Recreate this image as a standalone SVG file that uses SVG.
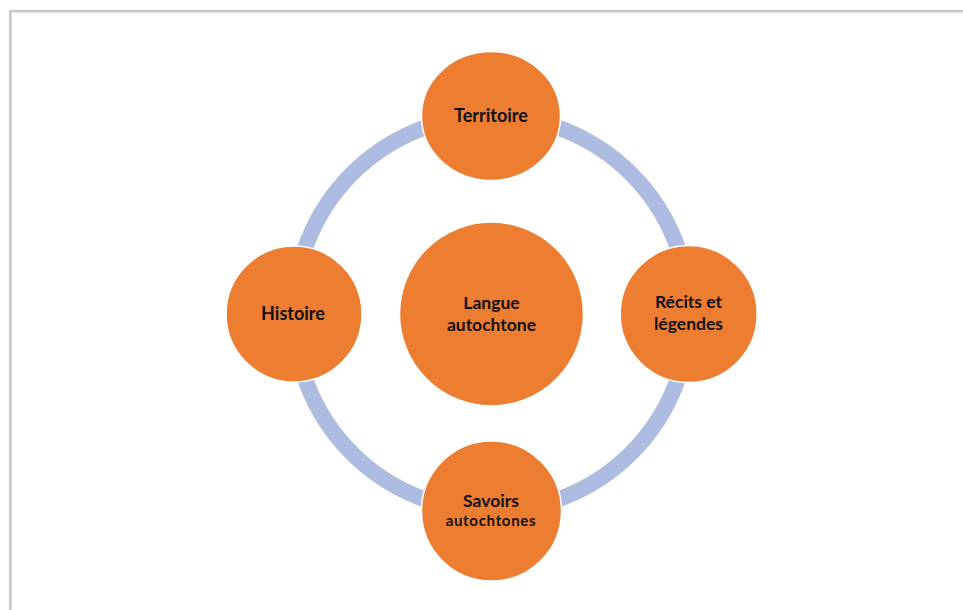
<svg xmlns="http://www.w3.org/2000/svg" width="963" height="610" viewBox="0 0 963 610">
<style>
.node{fill:#ed7d31;stroke:#ffffff;stroke-width:1.5}
.lbl{font-family:Lato,"Liberation Sans",sans-serif;font-weight:bold;fill:#111111;text-anchor:middle}
.ring{fill:none;stroke:#adbce0;stroke-width:16}
.frame{stroke:#c9c9c9;stroke-width:2.6;fill:none}
</style>
<rect width="963" height="610" fill="#ffffff"/>
<path class="frame" d="M10.3 610 V11.3 H963"/>
<g id="connectors">
<circle class="ring" cx="491.5" cy="313.5" r="197.5"/>
</g>
<g id="center">
<circle class="node" cx="491.5" cy="314" r="92"/>
<text class="lbl" x="491.5" y="308.7" font-size="17.5">Langue</text>
<text class="lbl" x="491.5" y="330.7" font-size="17.5">autochtone</text>
</g>
<g id="territoire">
<ellipse class="node" cx="491" cy="116" rx="69.5" ry="64.5"/>
<text class="lbl" x="491" y="121.7" font-size="18">Territoire</text>
</g>
<g id="histoire">
<circle class="node" cx="294" cy="314" r="68"/>
<text class="lbl" x="293" y="320" font-size="18">Histoire</text>
</g>
<g id="recits">
<circle class="node" cx="688.7" cy="314" r="68.5"/>
<text class="lbl" x="688.5" y="308.3" font-size="17.5">Récits et</text>
<text class="lbl" x="688.5" y="330" font-size="17.5">légendes</text>
</g>
<g id="savoirs">
<circle class="node" cx="491.5" cy="511" r="70"/>
<text class="lbl" x="491" y="506.7" font-size="17.5">Savoirs</text>
<text class="lbl" x="491" y="525.7" font-size="15" letter-spacing="0.7">autochtones</text>
</g>
</svg>
